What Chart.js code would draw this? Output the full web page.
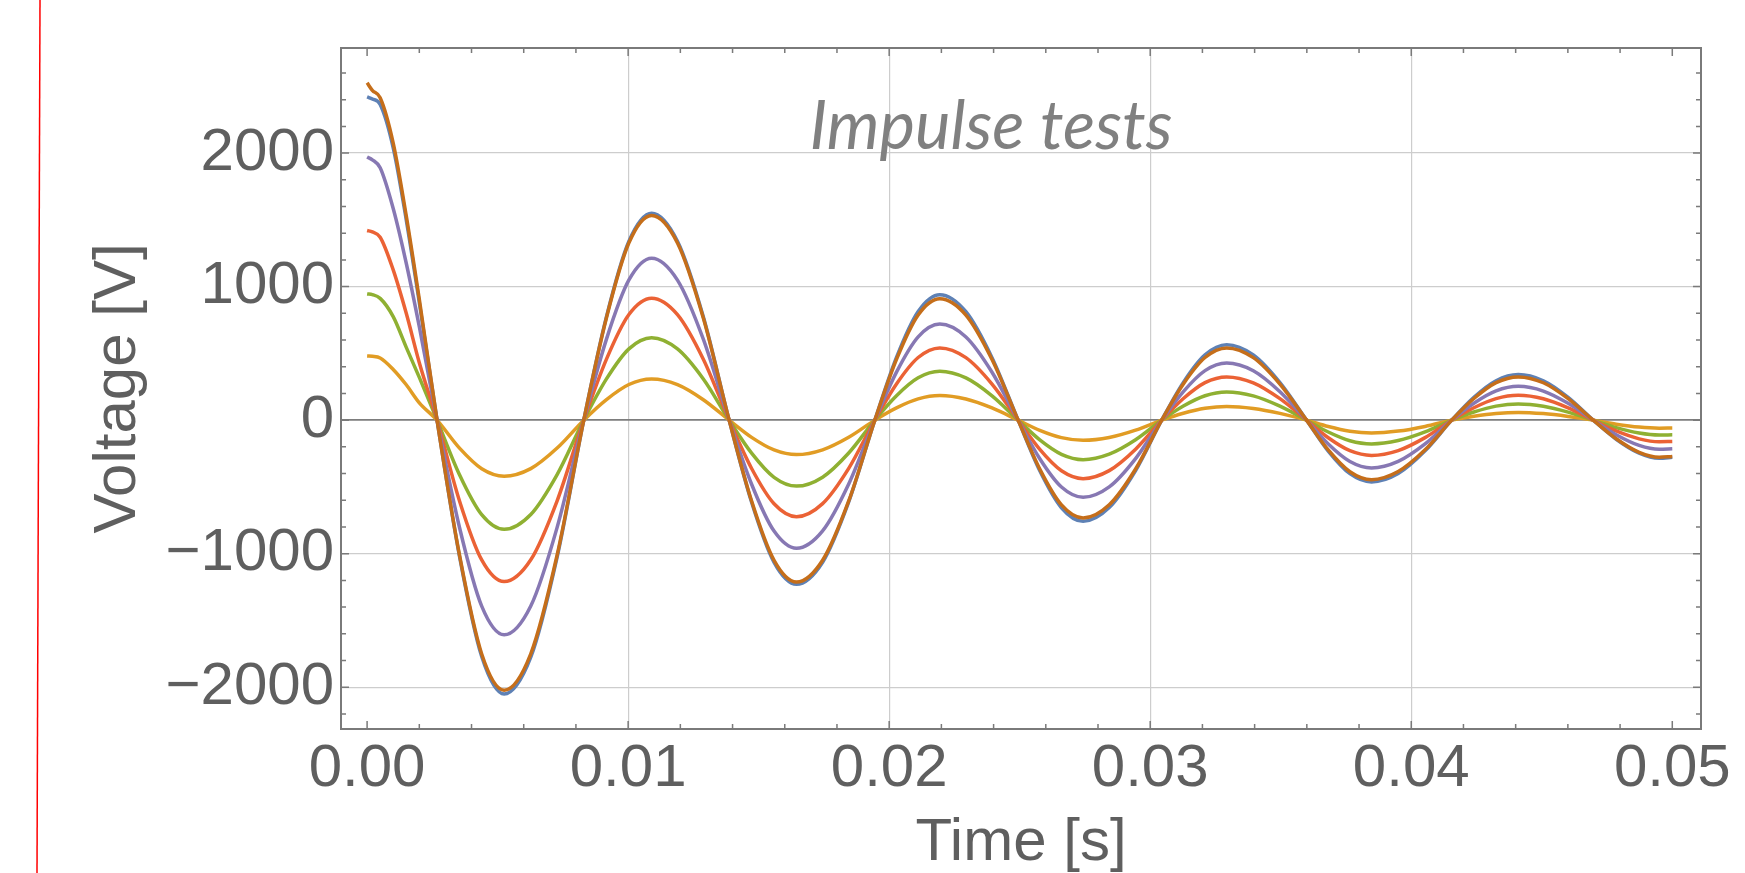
<!DOCTYPE html>
<html>
<head>
<meta charset="utf-8">
<title>Impulse tests</title>
<script src="https://cdn.jsdelivr.net/npm/chart.js@4.4.1/dist/chart.umd.min.js"></script>
<style>
  html, body { margin: 0; padding: 0; background: #fff; }
  #wrap { position: relative; width: 1745px; height: 873px; }
</style>
</head>
<body>
<div id="wrap"><canvas id="impulseChart"></canvas></div>
<script>
// sample times [s]
const time = [
  0, 0.0002, 0.0005, 0.001, 0.0015, 0.002, 0.00268,
  0.00354, 0.00439, 0.00525, 0.00627, 0.00728, 0.0083,
  0.00917, 0.01003, 0.0109, 0.01189, 0.01288, 0.01387,
  0.01473, 0.01559, 0.01645, 0.01745, 0.01845, 0.01945,
  0.02028, 0.02111, 0.02194, 0.02294, 0.02394, 0.02494,
  0.02577, 0.0266, 0.02743, 0.02843, 0.02944, 0.03044,
  0.03127, 0.0321, 0.03293, 0.03395, 0.03497, 0.03599,
  0.03682, 0.03765, 0.03848, 0.0395, 0.04053, 0.04155,
  0.0424, 0.04325, 0.0441, 0.04506, 0.04601, 0.04697,
  0.04785, 0.04873, 0.0495, 0.05
];

// voltages [V], one array per test
const test1 = [
  2421, 2405, 2365, 2040, 1500, 880, 0,
  -1020, -1770, -2051, -1775, -1025, 0,
  775, 1340, 1550, 1340, 775, 0,
  -615, -1065, -1229, -1064, -612, 0,
  470, 814, 940, 812, 468, 0,
  -379, -656, -758, -655, -378, 0,
  283, 489, 565, 488, 281, 0,
  -232, -401, -463, -400, -230, 0,
  171, 295, 341, 294, 170, 0,
  -143, -247, -285, -278
];
const test2 = [
  480, 478, 466, 380, 265, 130, 0,
  -210, -364, -420, -363, -209, 0,
  154, 267, 308, 266, 153, 0,
  -129, -223, -258, -222, -128, 0,
  92, 159, 184, 158, 91, 0,
  -76, -131, -151, -130, -75, 0,
  52, 89, 103, 88, 51, 0,
  -48, -83, -96, -82, -47, 0,
  29, 50, 58, 49, 28, 0,
  -30, -52, -60, -59
];
const test3 = [
  945, 940, 912, 775, 545, 320, 0,
  -409, -708, -818, -707, -408, 0,
  309, 534, 617, 533, 308, 0,
  -247, -428, -494, -427, -246, 0,
  183, 317, 366, 316, 182, 0,
  -148, -256, -296, -255, -147, 0,
  106, 183, 211, 182, 105, 0,
  -89, -154, -178, -153, -88, 0,
  61, 105, 121, 104, 60, 0,
  -56, -96, -111, -110
];
const test4 = [
  1420, 1410, 1370, 1125, 800, 430, 0,
  -605, -1047, -1209, -1046, -604, 0,
  457, 791, 913, 790, 456, 0,
  -362, -626, -723, -625, -361, 0,
  271, 469, 541, 468, 270, 0,
  -219, -379, -438, -378, -218, 0,
  162, 281, 324, 280, 161, 0,
  -132, -229, -264, -228, -131, 0,
  93, 161, 186, 160, 92, 0,
  -81, -140, -162, -160
];
const test5 = [
  1971, 1950, 1890, 1585, 1175, 700, 0,
  -804, -1393, -1608, -1392, -803, 0,
  607, 1050, 1213, 1049, 606, 0,
  -480, -831, -960, -830, -479, 0,
  360, 624, 720, 623, 359, 0,
  -289, -501, -578, -500, -288, 0,
  214, 371, 428, 370, 213, 0,
  -179, -310, -358, -309, -178, 0,
  127, 219, 253, 218, 126, 0,
  -109, -189, -218, -214
];
const test6 = [
  2526, 2470, 2415, 2075, 1530, 905, 0,
  -1011, -1751, -2022, -1750, -1010, 0,
  767, 1328, 1533, 1327, 765, 0,
  -606, -1050, -1212, -1049, -605, 0,
  455, 788, 910, 787, 454, 0,
  -367, -635, -733, -634, -366, 0,
  271, 469, 541, 468, 270, 0,
  -223, -386, -446, -385, -222, 0,
  162, 281, 324, 280, 161, 0,
  -139, -241, -278, -272
];

const xTicks = [0, 0.01, 0.02, 0.03, 0.04, 0.05];
const yTicks = [-2000, -1000, 0, 1000, 2000];

const series = [test1, test2, test3, test4, test5, test6];
const colors = ['#5E81B5', '#E19C24', '#8FB032', '#EB6235', '#8778B3', '#C56E1A'];

const textGray = '#5f5f5f';
const frameGray = '#7a7a7a';
const tickFont = { family: 'Liberation Sans, Arial, sans-serif', size: 60 };

// frame, inward ticks, inset title and the red margin line
const framePlugin = {
  id: 'frame',
  afterDatasetsDraw(chart) {
    const { ctx, chartArea: a, scales: { x, y } } = chart;
    ctx.save();
    ctx.strokeStyle = frameGray;
    ctx.lineWidth = 1.5;
    ctx.beginPath();
    for (let k = 0; k <= 25; k++) {
      const px = x.getPixelForValue(k * 0.002);
      const len = k % 5 === 0 ? 8 : 5;
      ctx.moveTo(px, a.bottom); ctx.lineTo(px, a.bottom - len);
      ctx.moveTo(px, a.top); ctx.lineTo(px, a.top + len);
    }
    for (let k = -11; k <= 13; k++) {
      const py = y.getPixelForValue(k * 200);
      const len = k % 5 === 0 ? 8 : 5;
      ctx.moveTo(a.left, py); ctx.lineTo(a.left + len, py);
      ctx.moveTo(a.right, py); ctx.lineTo(a.right - len, py);
    }
    ctx.stroke();
    ctx.lineWidth = 2;
    ctx.strokeRect(a.left, a.top, a.right - a.left, a.bottom - a.top);

    ctx.font = 'italic 67px Lato, "Open Sans", sans-serif';
    ctx.fillStyle = '#808080';
    ctx.textAlign = 'center';
    ctx.textBaseline = 'alphabetic';
    ctx.fillText('Impulse tests', x.getPixelForValue(0.0239), y.getPixelForValue(2030));

    ctx.strokeStyle = '#ff0000';
    ctx.lineWidth = 1.5;
    ctx.beginPath();
    ctx.moveTo(40, 0);
    ctx.lineTo(37, chart.height);
    ctx.stroke();
    ctx.restore();
  }
};

const config = {
  type: 'line',
  data: {
    datasets: series.map((s, i) => ({
      label: 'Test ' + (i + 1),
      data: time.map((t, j) => ({ x: t, y: s[j] })),
      borderColor: colors[i],
      backgroundColor: colors[i],
      borderWidth: 3.5,
      pointRadius: 0,
      fill: false,
      cubicInterpolationMode: 'monotone',
      order: series.length - i
    }))
  },
  options: {
    responsive: true,
    maintainAspectRatio: false,
    animation: false,
    layout: { padding: { top: 48, right: 44, left: 0, bottom: 0 } },
    plugins: {
      legend: { display: false },
      tooltip: { enabled: false }
    },
    scales: {
      x: {
        type: 'linear',
        min: -0.001,
        max: 0.0511,
        afterBuildTicks: s => { s.ticks = xTicks.map(v => ({ value: v })); },
        afterFit: s => { s.height = 144; },
        border: { display: false },
        grid: {
          drawTicks: false,
          lineWidth: 1.2,
          color: c => (c.tick && (c.tick.value === 0 || c.tick.value === 0.05)) ? 'rgba(0,0,0,0)' : '#cdcdcd'
        },
        ticks: {
          padding: 4,
          color: textGray,
          font: tickFont,
          maxRotation: 0,
          autoSkip: false,
          callback: v => Number(v).toFixed(2)
        },
        title: {
          display: true,
          text: 'Time [s]',
          color: textGray,
          font: { family: 'Liberation Sans, Arial, sans-serif', size: 60, lineHeight: 1 },
          padding: { top: 0, bottom: 0 }
        }
      },
      y: {
        min: -2313,
        max: 2787,
        afterBuildTicks: s => { s.ticks = yTicks.map(v => ({ value: v })); },
        afterFit: s => { s.width = 341; },
        border: { display: false },
        grid: {
          drawTicks: false,
          lineWidth: c => (c.tick && c.tick.value === 0) ? 1.8 : 1.2,
          color: c => (c.tick && c.tick.value === 0) ? '#7d7d7d' : '#cdcdcd'
        },
        ticks: {
          padding: 7,
          color: textGray,
          font: tickFont,
          autoSkip: false,
          callback: v => v < 0 ? '\u2212' + Math.abs(v) : String(v)
        },
        title: {
          display: true,
          text: 'Voltage [V]',
          color: textGray,
          font: { family: 'Liberation Sans, Arial, sans-serif', size: 60 },
          padding: { top: 82, bottom: 0 }
        }
      }
    }
  },
  plugins: [framePlugin]
};

const impulseChart = new Chart(document.getElementById('impulseChart'), config);
</script>
</body>
</html>
